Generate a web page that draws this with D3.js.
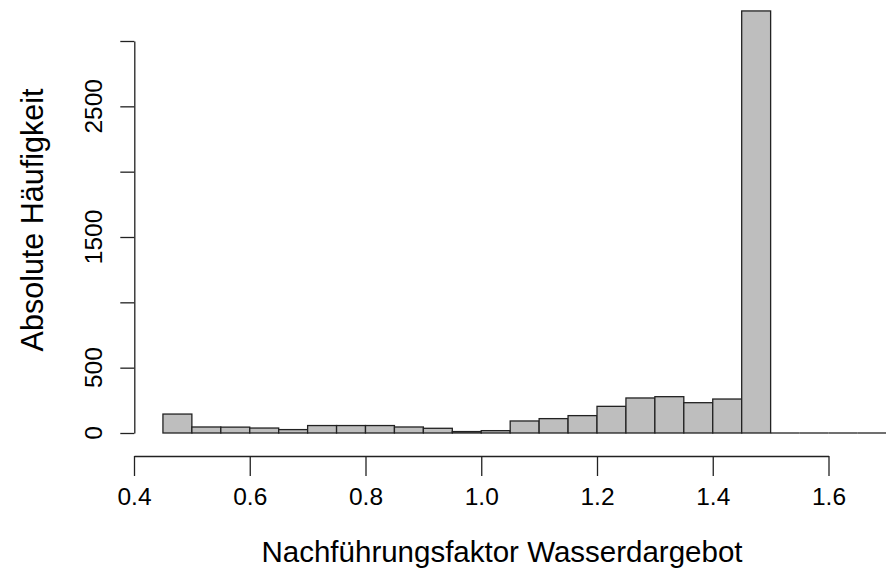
<!DOCTYPE html>
<html>
<head>
<meta charset="utf-8">
<script src="https://cdn.jsdelivr.net/npm/d3@7"></script>
<style>
  html, body { margin: 0; padding: 0; background: #fff; }
  svg { display: block; }
  text { font-family: "Liberation Sans", Arial, sans-serif; fill: #000; }
</style>
</head>
<body>
<svg id="chart" width="886" height="569"></svg>
<script>
// Histogram bins (width 0.05) and their counts
const binStarts = [0.45, 0.50, 0.55, 0.60, 0.65, 0.70, 0.75, 0.80, 0.85, 0.90,
                   0.95, 1.00, 1.05, 1.10, 1.15, 1.20, 1.25, 1.30, 1.35, 1.40,
                   1.45, 1.50, 1.55, 1.60, 1.65, 1.70];
const counts = [145, 46, 45, 38, 26, 57, 57, 57, 46, 36,
                11, 18, 92, 110, 133, 204, 268, 278, 232, 260,
                3230, 0, 0, 0, 0, 0];
const binWidth = 0.05;

// Axis ticks and the labels R prints (overlapping ones are dropped)
const xTicks = [0.4, 0.6, 0.8, 1.0, 1.2, 1.4, 1.6];
const yTicks = [0, 500, 1000, 1500, 2000, 2500, 3000];
const yTickLabels = [0, 500, 1500, 2500];

const xTitle = "Nachführungsfaktor Wasserdargebot";
const yTitle = "Absolute Häufigkeit";

const svg = d3.select("#chart");
const ink = "#222";

const x = d3.scaleLinear().domain([0.4, 1.6]).range([134, 828.5]);
const y = d3.scaleLinear().domain([0, 3000]).range([433, 41]);

const bins = binStarts.map((s, i) => ({ s, c: counts[i] }));

// Bars with counts
svg.append("g")
  .selectAll("rect")
  .data(bins.filter(d => d.c > 0))
  .join("rect")
  .attr("x", d => x(d.s))
  .attr("width", d => x(d.s + binWidth) - x(d.s))
  .attr("y", d => y(d.c))
  .attr("height", d => y(0) - y(d.c))
  .attr("fill", "#bebebe")
  .attr("stroke", ink)
  .attr("stroke-width", 1.3);

// Empty bins collapse to a flat outline on the baseline
svg.append("g")
  .selectAll("line")
  .data(bins.filter(d => d.c === 0))
  .join("line")
  .attr("x1", d => x(d.s))
  .attr("x2", d => x(d.s + binWidth))
  .attr("y1", y(0))
  .attr("y2", y(0))
  .attr("stroke", ink)
  .attr("stroke-width", 1.3);

// X axis
const xAxis = svg.append("g")
  .attr("transform", "translate(0,456)")
  .call(d3.axisBottom(x).tickValues(xTicks).tickSizeInner(20).tickSizeOuter(0)
    .tickFormat(d3.format(".1f")));
xAxis.selectAll("path, line").attr("stroke", ink).attr("stroke-width", 1.3);
xAxis.selectAll("text")
  .attr("y", 0).attr("dy", null)
  .attr("transform", "translate(0,49)")
  .style("font-size", "24.5px")
  .style("font-family", "Liberation Sans, Arial, sans-serif")
  .attr("fill", "#000");

// Y axis
const yAxis = svg.append("g")
  .attr("transform", "translate(134.3,0)")
  .call(d3.axisLeft(y).tickValues(yTicks).tickSizeInner(14).tickSizeOuter(0)
    .tickFormat(""));
yAxis.selectAll("path, line").attr("stroke", ink).attr("stroke-width", 1.3);

// Rotated y tick labels
svg.append("g")
  .selectAll("text")
  .data(yTickLabels)
  .join("text")
  .attr("transform", d => `translate(101.7,${y(d)}) rotate(-90)`)
  .attr("text-anchor", "middle")
  .style("font-size", "24.5px")
  .text(d => d);

// Axis titles
svg.append("text")
  .attr("x", 502).attr("y", 561.5)
  .attr("text-anchor", "middle")
  .style("font-size", "29.5px")
  .text(xTitle);

svg.append("text")
  .attr("transform", "translate(43.3,220) rotate(-90)")
  .attr("text-anchor", "middle")
  .style("font-size", "30.5px")
  .text(yTitle);
</script>
</body>
</html>
